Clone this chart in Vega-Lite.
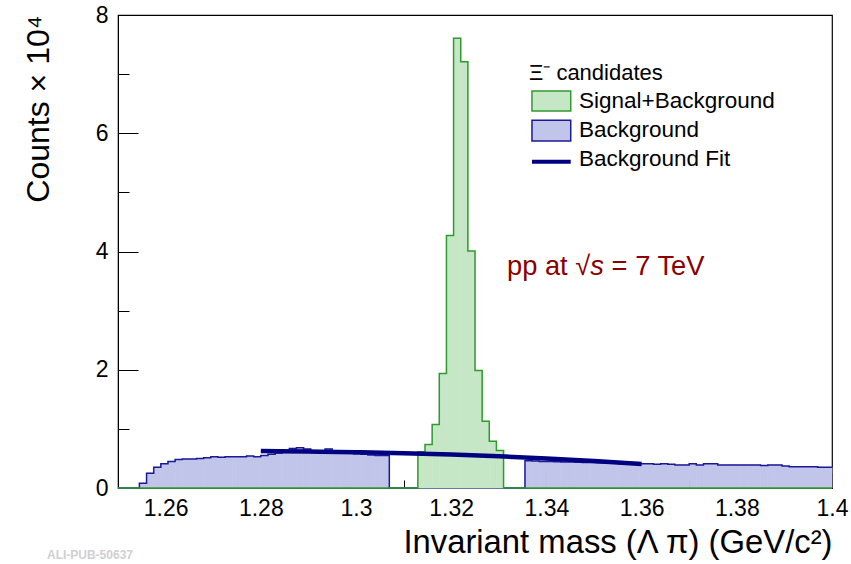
{
  "$schema": "https://vega.github.io/schema/vega-lite/v6.json",
  "width": 714,
  "height": 473,
  "autosize": {"type": "none"},
  "padding": {"left": 118, "top": 15, "right": 19, "bottom": 76},
  "background": "white",
  "datasets": {
    "hist": [
      {"k":0,"lo":1.25,"hi":1.2515,"sb":0,"bg":0},
      {"k":1,"lo":1.2515,"hi":1.253,"sb":0,"bg":0},
      {"k":2,"lo":1.253,"hi":1.2545,"sb":0,"bg":0},
      {"k":3,"lo":1.2545,"hi":1.256,"sb":0,"bg":0.08},
      {"k":4,"lo":1.256,"hi":1.2575,"sb":0,"bg":0.25},
      {"k":5,"lo":1.2575,"hi":1.259,"sb":0,"bg":0.35},
      {"k":6,"lo":1.259,"hi":1.2605,"sb":0,"bg":0.41},
      {"k":7,"lo":1.2605,"hi":1.262,"sb":0,"bg":0.45},
      {"k":8,"lo":1.262,"hi":1.2635,"sb":0,"bg":0.48},
      {"k":9,"lo":1.2635,"hi":1.265,"sb":0,"bg":0.49},
      {"k":10,"lo":1.265,"hi":1.2665,"sb":0,"bg":0.49},
      {"k":11,"lo":1.2665,"hi":1.268,"sb":0,"bg":0.5},
      {"k":12,"lo":1.268,"hi":1.2695,"sb":0,"bg":0.51},
      {"k":13,"lo":1.2695,"hi":1.271,"sb":0,"bg":0.53},
      {"k":14,"lo":1.271,"hi":1.2725,"sb":0,"bg":0.52},
      {"k":15,"lo":1.2725,"hi":1.274,"sb":0,"bg":0.53},
      {"k":16,"lo":1.274,"hi":1.2755,"sb":0,"bg":0.53},
      {"k":17,"lo":1.2755,"hi":1.277,"sb":0,"bg":0.53},
      {"k":18,"lo":1.277,"hi":1.2785,"sb":0,"bg":0.54},
      {"k":19,"lo":1.2785,"hi":1.28,"sb":0,"bg":0.53},
      {"k":20,"lo":1.28,"hi":1.2815,"sb":0,"bg":0.55},
      {"k":21,"lo":1.2815,"hi":1.283,"sb":0,"bg":0.57},
      {"k":22,"lo":1.283,"hi":1.2845,"sb":0,"bg":0.59},
      {"k":23,"lo":1.2845,"hi":1.286,"sb":0,"bg":0.61},
      {"k":24,"lo":1.286,"hi":1.2875,"sb":0,"bg":0.67},
      {"k":25,"lo":1.2875,"hi":1.289,"sb":0,"bg":0.68},
      {"k":26,"lo":1.289,"hi":1.2905,"sb":0,"bg":0.66},
      {"k":27,"lo":1.2905,"hi":1.292,"sb":0,"bg":0.62},
      {"k":28,"lo":1.292,"hi":1.2935,"sb":0,"bg":0.61},
      {"k":29,"lo":1.2935,"hi":1.295,"sb":0,"bg":0.66},
      {"k":30,"lo":1.295,"hi":1.2965,"sb":0,"bg":0.62},
      {"k":31,"lo":1.2965,"hi":1.298,"sb":0,"bg":0.6},
      {"k":32,"lo":1.298,"hi":1.2995,"sb":0,"bg":0.59},
      {"k":33,"lo":1.2995,"hi":1.301,"sb":0,"bg":0.58},
      {"k":34,"lo":1.301,"hi":1.3025,"sb":0,"bg":0.57},
      {"k":35,"lo":1.3025,"hi":1.304,"sb":0,"bg":0.56},
      {"k":36,"lo":1.304,"hi":1.3055,"sb":0,"bg":0.55},
      {"k":37,"lo":1.3055,"hi":1.307,"sb":0,"bg":0.55},
      {"k":38,"lo":1.307,"hi":1.3085,"sb":0,"bg":0},
      {"k":39,"lo":1.3085,"hi":1.31,"sb":0,"bg":0},
      {"k":40,"lo":1.31,"hi":1.3115,"sb":0,"bg":0},
      {"k":41,"lo":1.3115,"hi":1.313,"sb":0,"bg":0},
      {"k":42,"lo":1.313,"hi":1.3145,"sb":0.613,"bg":0},
      {"k":43,"lo":1.3145,"hi":1.316,"sb":0.736,"bg":0},
      {"k":44,"lo":1.316,"hi":1.3175,"sb":1.074,"bg":0},
      {"k":45,"lo":1.3175,"hi":1.319,"sb":1.937,"bg":0},
      {"k":46,"lo":1.319,"hi":1.3205,"sb":4.27,"bg":0},
      {"k":47,"lo":1.3205,"hi":1.322,"sb":7.606,"bg":0},
      {"k":48,"lo":1.322,"hi":1.3235,"sb":7.21,"bg":0},
      {"k":49,"lo":1.3235,"hi":1.325,"sb":4.007,"bg":0},
      {"k":50,"lo":1.325,"hi":1.3265,"sb":1.988,"bg":0},
      {"k":51,"lo":1.3265,"hi":1.328,"sb":1.13,"bg":0},
      {"k":52,"lo":1.328,"hi":1.3295,"sb":0.792,"bg":0},
      {"k":53,"lo":1.3295,"hi":1.331,"sb":0.635,"bg":0},
      {"k":54,"lo":1.331,"hi":1.3325,"sb":0,"bg":0},
      {"k":55,"lo":1.3325,"hi":1.334,"sb":0,"bg":0},
      {"k":56,"lo":1.334,"hi":1.3355,"sb":0,"bg":0},
      {"k":57,"lo":1.3355,"hi":1.337,"sb":0,"bg":0.46},
      {"k":58,"lo":1.337,"hi":1.3385,"sb":0,"bg":0.455},
      {"k":59,"lo":1.3385,"hi":1.34,"sb":0,"bg":0.45},
      {"k":60,"lo":1.34,"hi":1.3415,"sb":0,"bg":0.45},
      {"k":61,"lo":1.3415,"hi":1.343,"sb":0,"bg":0.445},
      {"k":62,"lo":1.343,"hi":1.3445,"sb":0,"bg":0.44},
      {"k":63,"lo":1.3445,"hi":1.346,"sb":0,"bg":0.44},
      {"k":64,"lo":1.346,"hi":1.3475,"sb":0,"bg":0.435},
      {"k":65,"lo":1.3475,"hi":1.349,"sb":0,"bg":0.43},
      {"k":66,"lo":1.349,"hi":1.3505,"sb":0,"bg":0.43},
      {"k":67,"lo":1.3505,"hi":1.352,"sb":0,"bg":0.425},
      {"k":68,"lo":1.352,"hi":1.3535,"sb":0,"bg":0.42},
      {"k":69,"lo":1.3535,"hi":1.355,"sb":0,"bg":0.42},
      {"k":70,"lo":1.355,"hi":1.3565,"sb":0,"bg":0.415},
      {"k":71,"lo":1.3565,"hi":1.358,"sb":0,"bg":0.41},
      {"k":72,"lo":1.358,"hi":1.3595,"sb":0,"bg":0.41},
      {"k":73,"lo":1.3595,"hi":1.361,"sb":0,"bg":0.41},
      {"k":74,"lo":1.361,"hi":1.3625,"sb":0,"bg":0.41},
      {"k":75,"lo":1.3625,"hi":1.364,"sb":0,"bg":0.4},
      {"k":76,"lo":1.364,"hi":1.3655,"sb":0,"bg":0.41},
      {"k":77,"lo":1.3655,"hi":1.367,"sb":0,"bg":0.4},
      {"k":78,"lo":1.367,"hi":1.3685,"sb":0,"bg":0.39},
      {"k":79,"lo":1.3685,"hi":1.37,"sb":0,"bg":0.39},
      {"k":80,"lo":1.37,"hi":1.3715,"sb":0,"bg":0.41},
      {"k":81,"lo":1.3715,"hi":1.373,"sb":0,"bg":0.39},
      {"k":82,"lo":1.373,"hi":1.3745,"sb":0,"bg":0.41},
      {"k":83,"lo":1.3745,"hi":1.376,"sb":0,"bg":0.41},
      {"k":84,"lo":1.376,"hi":1.3775,"sb":0,"bg":0.39},
      {"k":85,"lo":1.3775,"hi":1.379,"sb":0,"bg":0.39},
      {"k":86,"lo":1.379,"hi":1.3805,"sb":0,"bg":0.39},
      {"k":87,"lo":1.3805,"hi":1.382,"sb":0,"bg":0.39},
      {"k":88,"lo":1.382,"hi":1.3835,"sb":0,"bg":0.39},
      {"k":89,"lo":1.3835,"hi":1.385,"sb":0,"bg":0.39},
      {"k":90,"lo":1.385,"hi":1.3865,"sb":0,"bg":0.38},
      {"k":91,"lo":1.3865,"hi":1.388,"sb":0,"bg":0.39},
      {"k":92,"lo":1.388,"hi":1.3895,"sb":0,"bg":0.39},
      {"k":93,"lo":1.3895,"hi":1.391,"sb":0,"bg":0.37},
      {"k":94,"lo":1.391,"hi":1.3925,"sb":0,"bg":0.36},
      {"k":95,"lo":1.3925,"hi":1.394,"sb":0,"bg":0.36},
      {"k":96,"lo":1.394,"hi":1.3955,"sb":0,"bg":0.36},
      {"k":97,"lo":1.3955,"hi":1.397,"sb":0,"bg":0.36},
      {"k":98,"lo":1.397,"hi":1.3985,"sb":0,"bg":0.35},
      {"k":99,"lo":1.3985,"hi":1.4,"sb":0,"bg":0.35}
    ],
    "fit": [
      {"m":1.28,"f":0.625},
      {"m":1.29,"f":0.617},
      {"m":1.30,"f":0.605},
      {"m":1.31,"f":0.588},
      {"m":1.32,"f":0.565},
      {"m":1.33,"f":0.535},
      {"m":1.34,"f":0.5},
      {"m":1.35,"f":0.455},
      {"m":1.36,"f":0.405}
    ]
  },
  "layer": [
    {
      "data": {"name": "hist"},
      "mark": {"type": "rect", "fill": "#c2c5ea", "stroke": "#c2c5ea", "strokeWidth": 0.8},
      "encoding": {
        "x": {
          "field": "lo", "type": "quantitative",
          "scale": {"domain": [1.25, 1.4], "nice": false, "zero": false},
          "axis": {
            "title": "Invariant mass (Λ π) (GeV/c²)",
            "values": [1.25,1.255,1.26,1.265,1.27,1.275,1.28,1.285,1.29,1.295,1.3,1.305,1.31,1.315,1.32,1.325,1.33,1.335,1.34,1.345,1.35,1.355,1.36,1.365,1.37,1.375,1.38,1.385,1.39,1.395,1.4],
            "labelExpr": "abs(datum.value*50 - round(datum.value*50)) < 0.001 ? format(datum.value, '.3~r') : ''",
            "tickSize": {"condition": {"test": "abs(datum.value*50 - round(datum.value*50)) < 0.001", "value": -15}, "value": -8},
            "labelPadding": 24,
            "domain": false,
            "titleAnchor": "end",
            "titleFontSize": 32.8,
            "titlePadding": -1
          }
        },
        "x2": {"field": "hi"},
        "y": {
          "field": "bg", "type": "quantitative",
          "scale": {"domain": [0, 8], "nice": false},
          "axis": {
            "title": "Counts × 10⁴",
            "values": [0,0.5,1,1.5,2,2.5,3,3.5,4,4.5,5,5.5,6,6.5,7,7.5,8],
            "labelExpr": "abs(datum.value/2 - round(datum.value/2)) < 0.001 ? format(datum.value, 'd') : ''",
            "tickSize": {"condition": {"test": "abs(datum.value/2 - round(datum.value/2)) < 0.001", "value": -20}, "value": -11},
            "labelPadding": 30,
            "domain": true,
            "domainColor": "black",
            "titleAnchor": "end",
            "titlePadding": 40
          }
        },
        "y2": {"datum": 0}
      }
    },
    {
      "data": {"name": "hist"},
      "transform": [{"fold": ["lo", "hi"], "as": ["edge", "xe"]}],
      "mark": {"type": "line", "stroke": "#1a1a99", "strokeWidth": 1.5, "interpolate": "linear"},
      "encoding": {
        "x": {"field": "xe", "type": "quantitative"},
        "y": {"field": "bg", "type": "quantitative"},
        "order": [{"field": "k", "type": "quantitative"}, {"field": "edge", "type": "ordinal", "sort": "descending"}]
      }
    },
    {
      "data": {"name": "hist"},
      "transform": [{"filter": "datum.sb > 0"}],
      "mark": {"type": "rect", "fill": "#c6e7c6", "stroke": "#c6e7c6", "strokeWidth": 0.8},
      "encoding": {
        "x": {"field": "lo", "type": "quantitative"},
        "x2": {"field": "hi"},
        "y": {"field": "sb", "type": "quantitative"},
        "y2": {"datum": 0}
      }
    },
    {
      "data": {"name": "hist"},
      "transform": [{"fold": ["lo", "hi"], "as": ["edge", "xe"]}],
      "mark": {"type": "line", "stroke": "#2f9a2f", "strokeWidth": 1.5, "interpolate": "linear"},
      "encoding": {
        "x": {"field": "xe", "type": "quantitative"},
        "y": {"field": "sb", "type": "quantitative"},
        "order": [{"field": "k", "type": "quantitative"}, {"field": "edge", "type": "ordinal", "sort": "descending"}]
      }
    },
    {
      "data": {"name": "fit"},
      "mark": {"type": "line", "stroke": "#000080", "strokeWidth": 4.5, "interpolate": "monotone"},
      "encoding": {
        "x": {"field": "m", "type": "quantitative"},
        "y": {"field": "f", "type": "quantitative"}
      }
    },
    {
      "data": {"values": [{}]},
      "mark": {"type": "rect", "fill": "#c6e7c6", "stroke": "#2f9a2f", "strokeWidth": 1.5},
      "encoding": {
        "x": {"datum": 1.33697, "type": "quantitative"},
        "x2": {"datum": 1.34511},
        "y": {"datum": 6.714, "type": "quantitative"},
        "y2": {"datum": 6.376}
      }
    },
    {
      "data": {"values": [{}]},
      "mark": {"type": "rect", "fill": "#c2c5ea", "stroke": "#1a1a99", "strokeWidth": 1.5},
      "encoding": {
        "x": {"datum": 1.33697, "type": "quantitative"},
        "x2": {"datum": 1.34511},
        "y": {"datum": 6.218, "type": "quantitative"},
        "y2": {"datum": 5.868}
      }
    },
    {
      "data": {"values": [{}]},
      "mark": {"type": "rule", "stroke": "#000080", "strokeWidth": 4},
      "encoding": {
        "x": {"datum": 1.33697, "type": "quantitative"},
        "x2": {"datum": 1.34511},
        "y": {"datum": 5.516, "type": "quantitative"}
      }
    },
    {
      "data": {"values": [{}]},
      "mark": {"type": "text", "text": "Ξ⁻ candidates", "align": "left", "baseline": "alphabetic", "fontSize": 22, "color": "black"},
      "encoding": {
        "x": {"datum": 1.33634, "type": "quantitative"},
        "y": {"datum": 6.9, "type": "quantitative"}
      }
    },
    {
      "data": {"values": [{}]},
      "mark": {"type": "text", "text": "Signal+Background", "align": "left", "baseline": "alphabetic", "fontSize": 22.5, "color": "black"},
      "encoding": {
        "x": {"datum": 1.34685, "type": "quantitative"},
        "y": {"datum": 6.433, "type": "quantitative"}
      }
    },
    {
      "data": {"values": [{}]},
      "mark": {"type": "text", "text": "Background", "align": "left", "baseline": "alphabetic", "fontSize": 22.5, "color": "black"},
      "encoding": {
        "x": {"datum": 1.34685, "type": "quantitative"},
        "y": {"datum": 5.942, "type": "quantitative"}
      }
    },
    {
      "data": {"values": [{}]},
      "mark": {"type": "text", "text": "Background Fit", "align": "left", "baseline": "alphabetic", "fontSize": 22.5, "color": "black"},
      "encoding": {
        "x": {"datum": 1.34685, "type": "quantitative"},
        "y": {"datum": 5.445, "type": "quantitative"}
      }
    },
    {
      "data": {"values": [{}]},
      "mark": {"type": "text", "text": "pp at √", "align": "left", "baseline": "alphabetic", "fontSize": 27.3, "color": "#8a0000"},
      "encoding": {
        "x": {"datum": 1.33172, "type": "quantitative"},
        "y": {"datum": 3.596, "type": "quantitative"}
      }
    },
    {
      "data": {"values": [{}]},
      "mark": {"type": "text", "text": "s", "align": "left", "baseline": "alphabetic", "fontSize": 27.3, "fontStyle": "italic", "color": "#8a0000"},
      "encoding": {
        "x": {"datum": 1.34922, "type": "quantitative"},
        "y": {"datum": 3.596, "type": "quantitative"}
      }
    },
    {
      "data": {"values": [{}]},
      "mark": {"type": "text", "text": "= 7 TeV", "align": "left", "baseline": "alphabetic", "fontSize": 27.3, "color": "#8a0000"},
      "encoding": {
        "x": {"datum": 1.3537, "type": "quantitative"},
        "y": {"datum": 3.596, "type": "quantitative"}
      }
    },
    {
      "data": {"values": [{}]},
      "mark": {"type": "text", "text": "ALI-PUB-50637", "align": "right", "baseline": "bottom", "fontSize": 12, "fontWeight": "bold", "color": "#d0d0d0"},
      "encoding": {
        "x": {"datum": 1.25315, "type": "quantitative"},
        "y": {"datum": -1.25, "type": "quantitative"}
      }
    }
  ],
  "config": {
    "font": "Liberation Sans",
    "view": {"stroke": "black", "strokeWidth": 1.2},
    "axis": {
      "grid": false,
      "labelFont": "Liberation Sans",
      "titleFont": "Liberation Sans",
      "labelFontSize": 23,
      "labelColor": "black",
      "titleFontSize": 32,
      "titleFontWeight": "normal",
      "titleColor": "black",
      "tickColor": "black",
      "tickWidth": 1,
      "labelFlush": false,
      "labelOverlap": false,
      "zindex": 1
    }
  }
}
